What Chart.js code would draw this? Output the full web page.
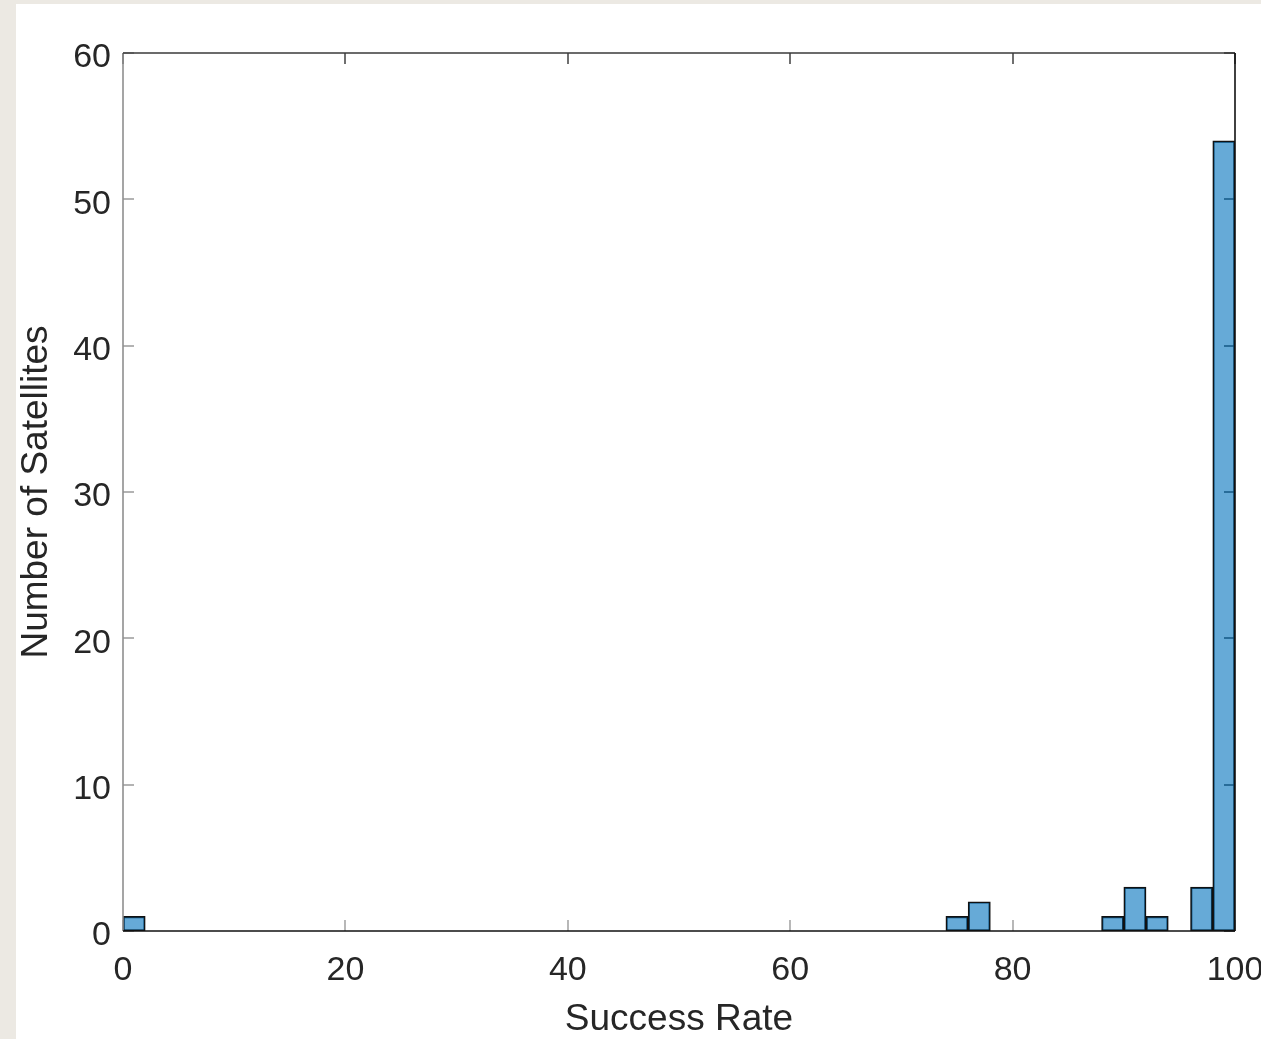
<!DOCTYPE html>
<html>
<head>
<meta charset="utf-8">
<script src="https://cdn.jsdelivr.net/npm/chart.js@4.4.1/dist/chart.umd.min.js"></script>
<style>
  html, body { margin: 0; padding: 0; background: #ECE9E3; width: 1261px; height: 1039px; overflow: hidden; }
  #wrap { position: absolute; left: 16px; top: 4px; width: 1245px; height: 1035px; background: #ffffff; }
  canvas { display: block; }
</style>
</head>
<body>
<div id="wrap"><canvas id="c" width="1245" height="1035"></canvas></div>
<script>
// Histogram of satellite success rates, bin width 2 (%)
const binCenters = [
  1, 3, 5, 7, 9, 11, 13, 15, 17, 19,
  21, 23, 25, 27, 29, 31, 33, 35, 37, 39,
  41, 43, 45, 47, 49, 51, 53, 55, 57, 59,
  61, 63, 65, 67, 69, 71, 73, 75, 77, 79,
  81, 83, 85, 87, 89, 91, 93, 95, 97, 99
];
const satelliteCounts = [
  1, 0, 0, 0, 0, 0, 0, 0, 0, 0,
  0, 0, 0, 0, 0, 0, 0, 0, 0, 0,
  0, 0, 0, 0, 0, 0, 0, 0, 0, 0,
  0, 0, 0, 0, 0, 0, 0, 1, 2, 0,
  0, 0, 0, 0, 1, 3, 1, 0, 3, 54
];
const xTickValues = [0, 20, 40, 60, 80, 100];
const yTickValues = [0, 10, 20, 30, 40, 50, 60];
const xTitle = 'Success Rate';
const yTitle = 'Number of Satellites';

const FONT = "'Liberation Sans', Arial, Helvetica, sans-serif";
const TEXT = '#262626';

// Box around the axes with inward tick marks on all four sides
const axesBox = {
  id: 'axesBox',
  beforeDatasetsDraw(chart) {
    const { ctx, chartArea: a, scales: { x, y } } = chart;
    const len = 11;
    ctx.save();
    ctx.lineWidth = 1.4;
    const seg = (color, pts) => {
      ctx.strokeStyle = color;
      ctx.beginPath();
      pts.forEach(([x1, y1, x2, y2]) => { ctx.moveTo(x1, y1); ctx.lineTo(x2, y2); });
      ctx.stroke();
    };
    const xs = xTickValues.map(v => Math.round(x.getPixelForValue(v)));
    const ys = yTickValues.map(v => Math.round(y.getPixelForValue(v)));
    seg('#9a9a9a', xs.map(px => [px, a.bottom, px, a.bottom - len]));
    seg('#333333', xs.map(px => [px, a.top, px, a.top + len]));
    seg('#9a9a9a', ys.map(py => [a.left, py, a.left + len, py]));
    seg('#333333', ys.map(py => [a.right, py, a.right - len, py]));
    ctx.restore();
  },
  afterDatasetsDraw(chart) {
    const { ctx, chartArea: a } = chart;
    ctx.save();
    ctx.lineWidth = 1.6;
    ctx.strokeStyle = '#8f8f8f';
    ctx.beginPath(); ctx.moveTo(a.left, a.top); ctx.lineTo(a.left, a.bottom); ctx.stroke();
    ctx.strokeStyle = '#3a3a3a';
    ctx.beginPath(); ctx.moveTo(a.left, a.top); ctx.lineTo(a.right, a.top); ctx.stroke();
    ctx.strokeStyle = '#111111';
    ctx.beginPath(); ctx.moveTo(a.right, a.top); ctx.lineTo(a.right, a.bottom); ctx.stroke();
    ctx.beginPath(); ctx.moveTo(a.left, a.bottom); ctx.lineTo(a.right, a.bottom); ctx.stroke();
    ctx.restore();
  }
};

new Chart(document.getElementById('c'), {
  type: 'bar',
  data: {
    datasets: [{
      data: binCenters.map((c, i) => ({ x: c, y: satelliteCounts[i] })),
      backgroundColor: 'rgba(0, 114, 189, 0.6)',
      borderColor: '#111111',
      borderWidth: 1.5,
      borderSkipped: false,
      barPercentage: 1,
      categoryPercentage: 1
    }]
  },
  options: {
    responsive: false,
    animation: false,
    layout: { padding: { top: 49, right: 26, left: 0, bottom: 0 } },
    plugins: { legend: { display: false }, tooltip: { enabled: false } },
    scales: {
      x: {
        type: 'linear',
        min: 0, max: 100,
        offset: false,
        grid: { display: false, drawTicks: false },
        border: { display: false },
        afterBuildTicks: s => { s.ticks = xTickValues.map(v => ({ value: v })); },
        ticks: { color: TEXT, font: { family: FONT, size: 34 }, padding: 19, maxRotation: 0 },
        title: { display: true, text: xTitle, color: TEXT, font: { family: FONT, size: 37, lineHeight: 1.05 }, padding: { top: 0, bottom: 0 } },
        afterFit: s => { s.height = 108; s.paddingLeft = 0; s.paddingRight = 0; }
      },
      y: {
        min: 0, max: 60,
        grid: { display: false, drawTicks: false },
        border: { display: false },
        afterBuildTicks: s => { s.ticks = yTickValues.map(v => ({ value: v })); },
        ticks: { color: TEXT, font: { family: FONT, size: 34 }, padding: 12, labelOffset: 5 },
        title: { display: true, text: yTitle, color: TEXT, font: { family: FONT, size: 37, lineHeight: 1.1 }, padding: { top: 0, bottom: 0 } },
        afterFit: s => { s.width = 107; s.paddingTop = 0; s.paddingBottom = 0; }
      }
    }
  },
  plugins: [axesBox]
});
</script>
</body>
</html>
